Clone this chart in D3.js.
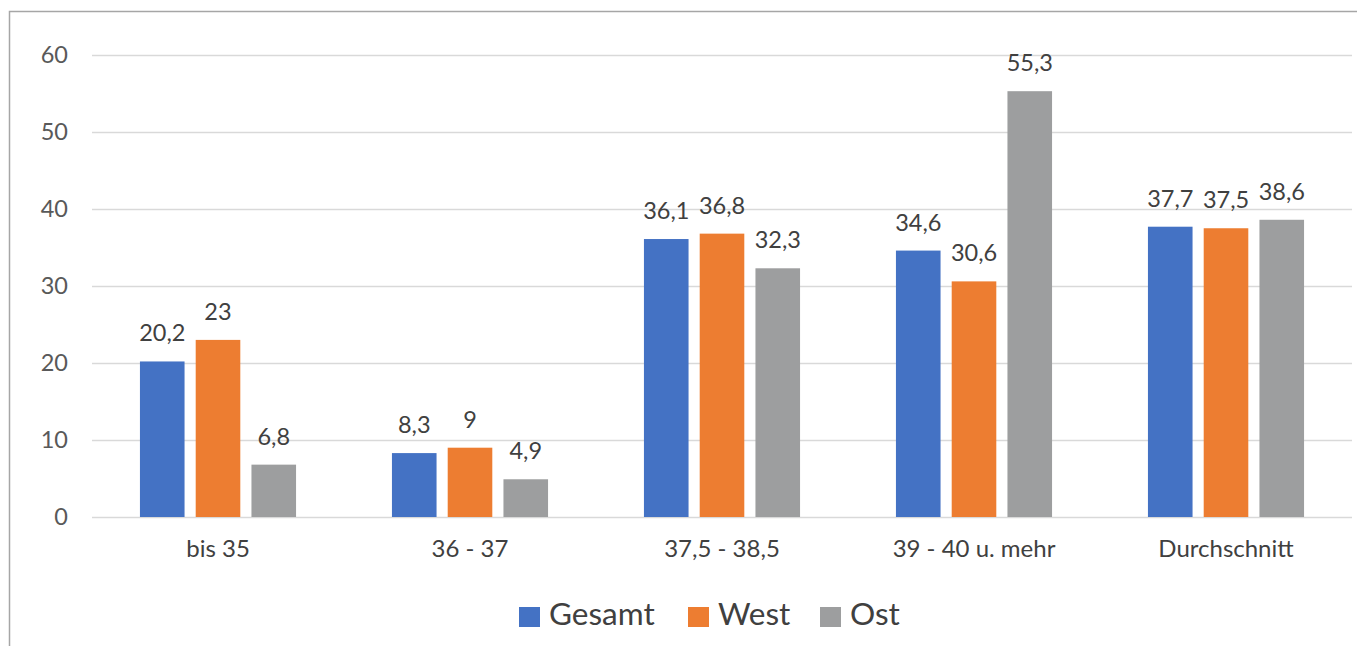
<!DOCTYPE html>
<html>
<head>
<meta charset="utf-8">
<script src="https://cdn.jsdelivr.net/npm/d3@7"></script>
<style>
  html, body { margin: 0; padding: 0; background: #fff; }
  svg { display: block; font-family: Lato, "Open Sans", sans-serif; }
</style>
</head>
<body>
<svg id="chart" width="1357" height="646"></svg>
<script>
// Wochenarbeitszeit nach Stundenklassen (Gesamt / West / Ost)
const categories = ["bis 35", "36 - 37", "37,5 - 38,5", "39 - 40 u. mehr", "Durchschnitt"];
const seriesNames = ["Gesamt", "West", "Ost"];
const gesamt = [20.2, 8.3, 36.1, 34.6, 37.7];
const west   = [23, 9, 36.8, 30.6, 37.5];
const ost    = [6.8, 4.9, 32.3, 55.3, 38.6];
const yTicks = [0, 10, 20, 30, 40, 50, 60];
const colors = ["#4472C4", "#ED7D31", "#9D9E9F"];

const seriesValues = [gesamt, west, ost];
const fmt = v => String(v).replace(".", ",");

const svg = d3.select("#chart");

// outer frame
svg.append("rect")
  .attr("x", 9.5).attr("y", 11.5)
  .attr("width", 1400).attr("height", 700)
  .attr("fill", "none")
  .attr("stroke", "#a6a6a6")
  .attr("stroke-width", 1.5);

const plot = { left: 92, right: 1352, top: 55, bottom: 517 };

const y = d3.scaleLinear().domain([0, 60]).range([plot.bottom, plot.top]);
const x0 = d3.scaleBand().domain(categories).range([plot.left, plot.right]).padding(0);
const x1 = d3.scaleBand().domain(seriesNames).range([0, x0.bandwidth()])
  .paddingInner(0.2).paddingOuter(0.86);

// gridlines + y tick labels
const yAxis = d3.axisLeft(y).tickValues(yTicks)
  .tickSize(-(plot.right - plot.left)).tickPadding(24).tickFormat(d3.format("d"));
const gy = svg.append("g").attr("transform", `translate(${plot.left},0)`).call(yAxis);
gy.select(".domain").remove();
gy.selectAll(".tick line").attr("stroke", "#d9d9d9").attr("stroke-width", 1.5);
gy.selectAll(".tick text")
  .attr("fill", "#595959").attr("font-size", 23.5)
  .attr("font-family", "Lato, sans-serif");

// x category labels
const xAxis = d3.axisBottom(x0).tickSize(0).tickPadding(23);
const gx = svg.append("g").attr("transform", `translate(0,${plot.bottom})`).call(xAxis);
gx.select(".domain").remove();
gx.selectAll(".tick text")
  .attr("fill", "#404040").attr("font-size", 24)
  .attr("font-family", "Lato, sans-serif");

// bars
const rows = categories.map((c, i) => ({
  cat: c,
  vals: seriesNames.map((s, k) => ({ s, k, v: seriesValues[k][i] }))
}));

const groups = svg.append("g").selectAll("g").data(rows).join("g")
  .attr("transform", d => `translate(${x0(d.cat)},0)`);

groups.selectAll("rect").data(d => d.vals).join("rect")
  .attr("x", d => x1(d.s))
  .attr("y", d => y(d.v))
  .attr("width", x1.bandwidth())
  .attr("height", d => y(0) - y(d.v))
  .attr("fill", d => colors[d.k]);

groups.selectAll("text").data(d => d.vals).join("text")
  .attr("x", d => x1(d.s) + x1.bandwidth() / 2)
  .attr("y", d => y(d.v) - 20)
  .attr("text-anchor", "middle")
  .attr("fill", "#404040")
  .attr("font-size", 23.5)
  .text(d => fmt(d.v));

// legend
const legendItems = [
  { name: "Gesamt", x: 519 },
  { name: "West", x: 688 },
  { name: "Ost", x: 820 }
];
const lg = svg.append("g");
legendItems.forEach((it, k) => {
  lg.append("rect")
    .attr("x", it.x).attr("y", 607)
    .attr("width", 21).attr("height", 20)
    .attr("fill", colors[k]);
  lg.append("text")
    .attr("x", it.x + 30).attr("y", 625)
    .attr("fill", "#404040")
    .attr("font-size", 31.5)
    .text(it.name);
});
</script>
</body>
</html>
